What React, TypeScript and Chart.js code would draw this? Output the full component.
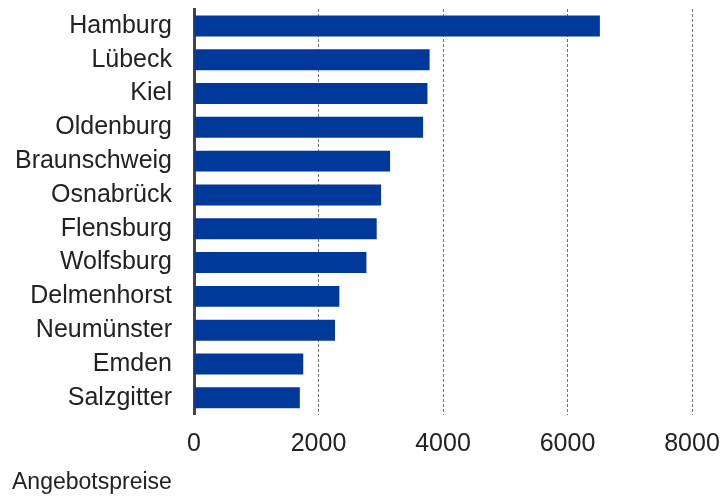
import React, { useEffect, useRef } from "react";
import { Chart, registerables } from "chart.js";

Chart.register(...registerables);

const cities = [
  "Hamburg",
  "Lübeck",
  "Kiel",
  "Oldenburg",
  "Braunschweig",
  "Osnabrück",
  "Flensburg",
  "Wolfsburg",
  "Delmenhorst",
  "Neumünster",
  "Emden",
  "Salzgitter",
];
const prices = [6520, 3785, 3750, 3680, 3150, 3005, 2935, 2770, 2335, 2265, 1755, 1700];
const xTicks = [0, 2000, 4000, 6000, 8000];
const titleText = "Angebotspreise";

const FONT = "'Liberation Sans', Arial, sans-serif";

export default function App() {
  const ref = useRef<HTMLCanvasElement | null>(null);

  useEffect(() => {
    if (!ref.current) return;
    const chart = new Chart(ref.current, {
      type: "bar",
      data: {
        labels: cities,
        datasets: [
          {
            data: prices,
            backgroundColor: "#00399a",
            borderWidth: 0,
            categoryPercentage: 1,
            barPercentage: 0.62,
          },
        ],
      },
      options: {
        indexAxis: "y",
        animation: false,
        responsive: false,
        maintainAspectRatio: false,
        layout: { padding: { top: 9, right: 32, left: 12, bottom: 1 } },
        plugins: {
          legend: { display: false },
          tooltip: { enabled: false },
          title: {
            display: true,
            text: titleText,
            position: "bottom",
            align: "start",
            color: "#222",
            font: { family: FONT, size: 23, weight: "normal", lineHeight: 1.1 },
            padding: { top: 0, bottom: 0 },
          },
        },
        scales: {
          x: {
            min: 0,
            max: 8000,
            afterBuildTicks: (s: any) => {
              s.ticks = xTicks.map((v) => ({ value: v }));
            },
            afterFit: (s: any) => {
              s.height = 55;
              s.paddingLeft = 0;
              s.paddingRight = 0;
            },
            grid: {
              display: true,
              color: "#777",
              lineWidth: 1,
              drawTicks: false,
              tickLength: 0,
            },
            border: { display: false, dash: [3, 2] },
            ticks: {
              color: "#222",
              font: { family: FONT, size: 25 },
              padding: 14,
              maxRotation: 0,
              autoSkip: false,
              callback: (v: any) => String(v),
            },
          },
          y: {
            afterFit: (s: any) => {
              s.width = 182;
              s.paddingTop = 0;
              s.paddingBottom = 0;
            },
            grid: { display: false, drawTicks: false },
            border: { display: true, color: "#444", width: 3 },
            ticks: {
              color: "#222",
              font: { family: FONT, size: 25 },
              padding: 22,
              autoSkip: false,
            },
          },
        },
      },
    });
    return () => chart.destroy();
  }, []);

  return (
    <div style={{ position: "absolute", left: 0, top: 0, width: 724, height: 496, background: "#fff" }}>
      <canvas ref={ref} width={724} height={496} style={{ width: 724, height: 496 }} />
    </div>
  );
}
